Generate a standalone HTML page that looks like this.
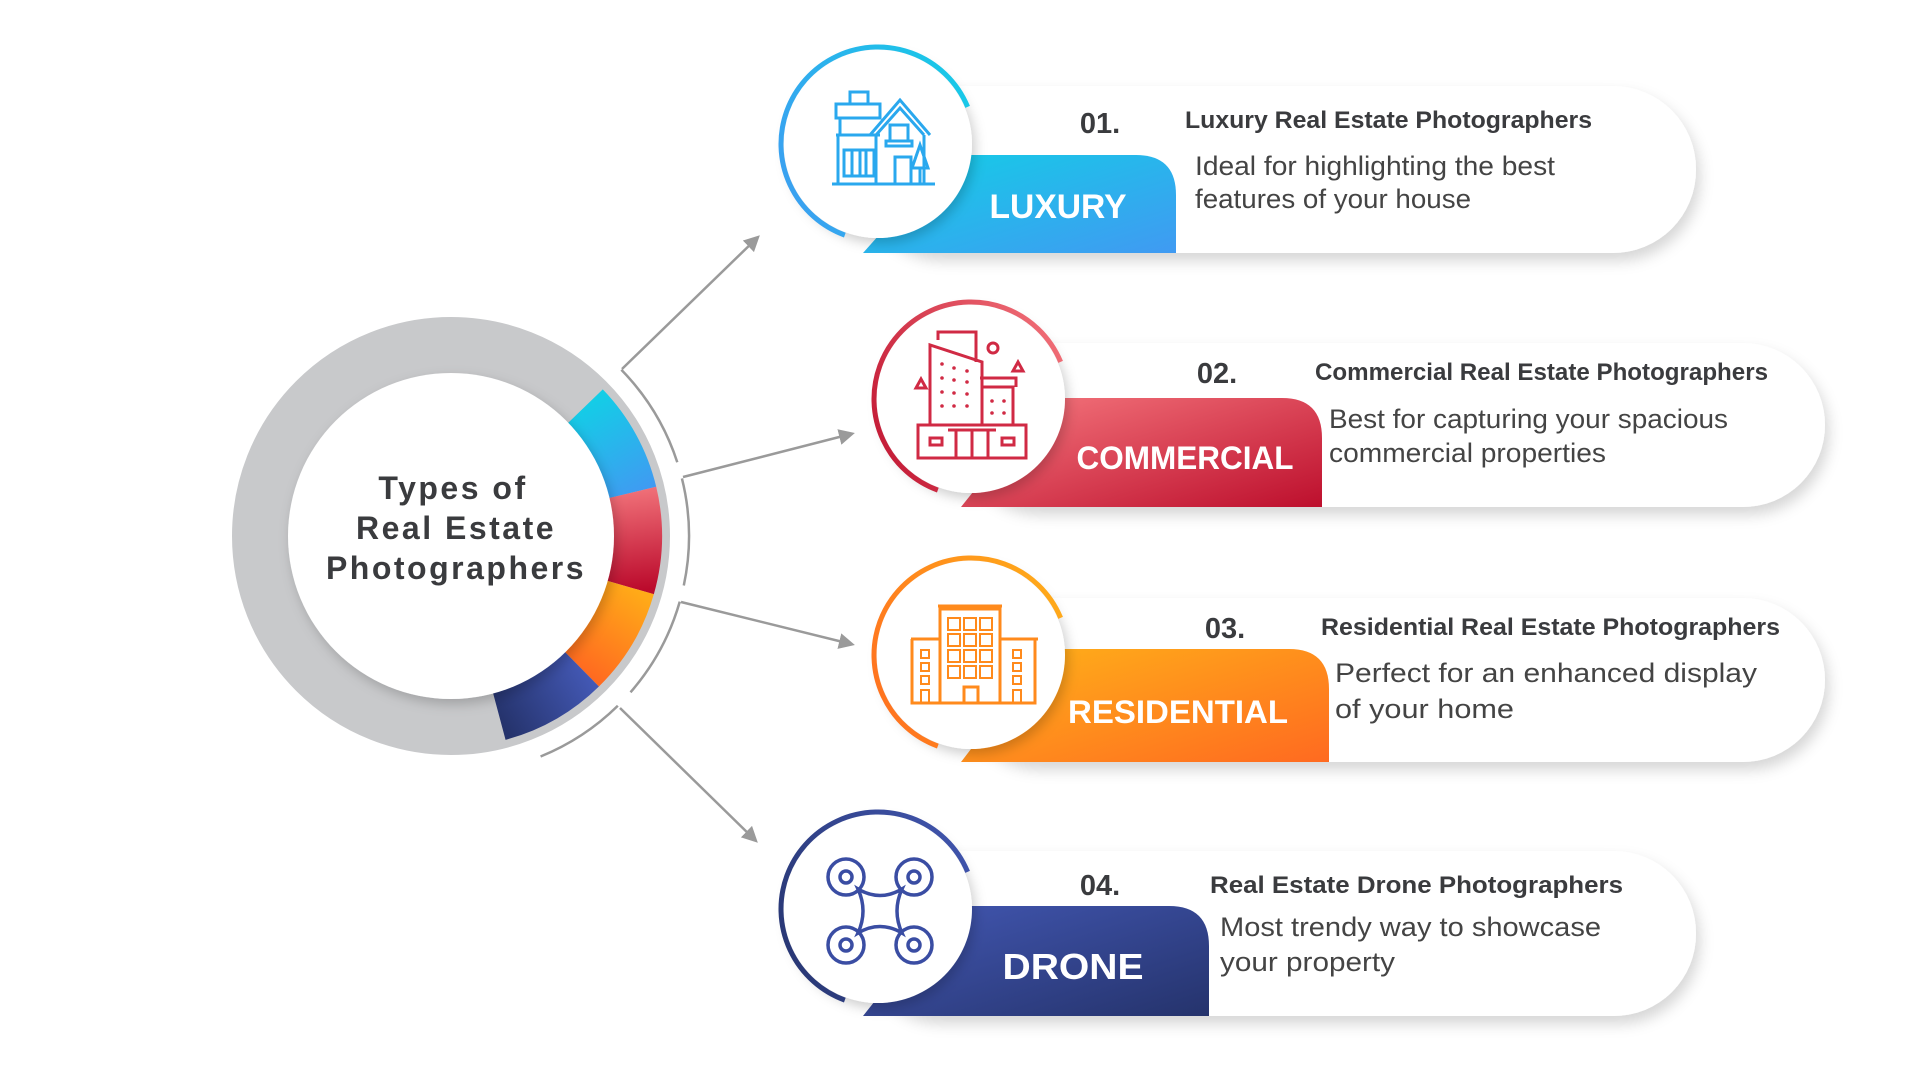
<!DOCTYPE html>
<html><head><meta charset="utf-8"><style>
html,body{margin:0;padding:0;background:#fff;}
svg{display:block;font-family:"Liberation Sans",sans-serif;}
</style></head><body>
<svg width="1920" height="1080" viewBox="0 0 1920 1080" xmlns="http://www.w3.org/2000/svg">
<defs>
<filter id="sh" x="-20%" y="-30%" width="140%" height="170%"><feDropShadow dx="4" dy="8" stdDeviation="7" flood-color="#000" flood-opacity="0.16"/></filter>
<filter id="sh2" x="-20%" y="-20%" width="140%" height="140%"><feDropShadow dx="3" dy="5" stdDeviation="6" flood-color="#000" flood-opacity="0.2"/></filter>
<marker id="ah" markerWidth="16" markerHeight="16" refX="12" refY="8" orient="auto" markerUnits="userSpaceOnUse" viewBox="0 0 16 16"><path d="M0,0 L16,8 L0,16 Z" fill="#9a9a9a"/></marker>
<linearGradient id="gB" x1="0" y1="0" x2="1" y2="1"><stop offset="0" stop-color="#12cfe6"/><stop offset="1" stop-color="#409af2"/></linearGradient>
<linearGradient id="gR" x1="0" y1="0" x2="1" y2="1"><stop offset="0" stop-color="#f77a80"/><stop offset="1" stop-color="#bd0f2d"/></linearGradient>
<linearGradient id="gO" x1="0" y1="0" x2="1" y2="1"><stop offset="0" stop-color="#ffb319"/><stop offset="1" stop-color="#ff6a20"/></linearGradient>
<linearGradient id="gN" x1="0" y1="0" x2="1" y2="1"><stop offset="0" stop-color="#4358b4"/><stop offset="1" stop-color="#25336c"/></linearGradient>
<linearGradient id="sB" gradientUnits="userSpaceOnUse" x1="585" y1="400" x2="640" y2="495"><stop offset="0" stop-color="#12cfe6"/><stop offset="1" stop-color="#409af2"/></linearGradient>
<linearGradient id="sR" gradientUnits="userSpaceOnUse" x1="630" y1="490" x2="640" y2="590"><stop offset="0" stop-color="#f07078"/><stop offset="1" stop-color="#bb0a2c"/></linearGradient>
<linearGradient id="sO" gradientUnits="userSpaceOnUse" x1="635" y1="590" x2="580" y2="670"><stop offset="0" stop-color="#ffaa18"/><stop offset="1" stop-color="#ff6a20"/></linearGradient>
<linearGradient id="sN" gradientUnits="userSpaceOnUse" x1="585" y1="670" x2="500" y2="720"><stop offset="0" stop-color="#4358b4"/><stop offset="1" stop-color="#25336c"/></linearGradient>
</defs>

<circle cx="451" cy="536" r="190" fill="none" stroke="#c8c9cb" stroke-width="58"/>
<g fill="none" stroke-width="50">
<path d="M584.8 406.8 A186 186 0 0 1 631.9 492.6" stroke="url(#sB)"/>
<path d="M631.9 492.6 A186 186 0 0 1 629.8 587.3" stroke="url(#sR)"/>
<path d="M629.8 587.3 A186 186 0 0 1 581.4 668.7" stroke="url(#sO)"/>
<path d="M581.4 668.7 A186 186 0 0 1 499.1 715.7" stroke="url(#sN)"/>
</g>
<circle cx="451" cy="536" r="163" fill="#fff" filter="url(#sh2)"/>
<g fill="#3a3b3e" font-weight="bold" font-size="32" text-anchor="middle" letter-spacing="2.5">
<text x="453" y="499">Types of</text>
<text x="456" y="539">Real Estate</text>
<text x="456" y="579">Photographers</text>
</g>

<g transform="translate(451 536)" fill="none" stroke="#9a9a9a" stroke-width="2.5">
<circle r="238" stroke-dasharray="109 2000" transform="rotate(-44.3)"/>
<circle r="238" stroke-dasharray="108 2000" transform="rotate(-14)"/>
<circle r="238" stroke-dasharray="104 2000" transform="rotate(16)"/>
<circle r="238" stroke-dasharray="93 2000" transform="rotate(45.5)"/>
</g>
<g stroke="#9a9a9a" stroke-width="2.5" fill="none" marker-end="url(#ah)">
<line x1="622" y1="369" x2="757" y2="238"/>
<line x1="683" y1="477" x2="851" y2="434"/>
<line x1="681" y1="602" x2="851" y2="644"/>
<line x1="620" y1="708" x2="755" y2="840"/>
</g>

<!-- CARD 1 -->
<rect x="857" y="86" width="839" height="167" rx="83" fill="#fff" filter="url(#sh)"/>
<path d="M863 253 L950 155 L1136 155 Q1176 155 1176 195 L1176 253 Z" fill="url(#gB)"/>
<circle cx="878" cy="144" r="94" fill="#fff" filter="url(#sh2)"/>
<circle cx="878" cy="144" r="97" fill="none" stroke="url(#gB)" stroke-width="5" stroke-dasharray="385 2000" transform="rotate(110 878 144)"/>
<g fill="none" stroke="#2aa8ee" stroke-width="3">
<rect x="850" y="92" width="18" height="12"/><path d="M836 104 H880 V118 H836 Z M840 118 V135 M836 135 H880 M838 135 V184 M832 184 H935"/>
<path d="M870 135 L900 100 L930 135 M876 135 L900 108 L924 135 M876 135 V184 M924 135 V184"/>
<rect x="890" y="125" width="18" height="16"/><rect x="886" y="141" width="26" height="5"/>
<rect x="844" y="150" width="30" height="26"/><path d="M852 150 V176 M860 150 V176 M866 150 V176"/>
<rect x="895" y="157" width="16" height="27"/><path d="M920 145 L912 168 H928 Z M920 168 V184"/>
</g>
<text x="1058" y="218" fill="#fff" font-weight="bold" font-size="34" text-anchor="middle" textLength="137" lengthAdjust="spacingAndGlyphs">LUXURY</text>
<text x="1100" y="133" fill="#3a3b3e" font-weight="bold" font-size="29" text-anchor="middle">01.</text>
<text x="1185" y="128" fill="#3a3b3e" font-weight="bold" font-size="24" textLength="407" lengthAdjust="spacingAndGlyphs">Luxury Real Estate Photographers</text>
<g fill="#444" font-size="27">
<text x="1195" y="175" textLength="360" lengthAdjust="spacingAndGlyphs">Ideal for highlighting the best</text>
<text x="1195" y="208" textLength="276" lengthAdjust="spacingAndGlyphs">features of your house</text>
</g>

<!-- CARD 2 -->
<rect x="955" y="343" width="870" height="164" rx="82" fill="#fff" filter="url(#sh)"/>
<path d="M961 507 L1048 398 L1282 398 Q1322 398 1322 438 L1322 507 Z" fill="url(#gR)"/>
<circle cx="971" cy="399" r="94" fill="#fff" filter="url(#sh2)"/>
<circle cx="971" cy="399" r="97" fill="none" stroke="url(#gR)" stroke-width="5" stroke-dasharray="385 2000" transform="rotate(110 971 399)"/>
<g fill="none" stroke="#d02a44" stroke-width="3">
<path d="M930 425 V345 L982 362 V425 M938 340 V332 H976 V362"/>
<path d="M982 387 H1013 V425 M980 378 H1016 V387"/>
<rect x="918" y="425" width="108" height="33"/><path d="M948 430 H996 M956 430 V458 M972 430 V458 M988 430 V458"/>
<rect x="930" y="438" width="12" height="7"/><rect x="1002" y="438" width="12" height="7"/>
<circle cx="993" cy="348" r="5"/><path d="M916 388 L921 379 L926 388 Z M1013 371 L1018 362 L1023 371 Z"/>
</g>
<g fill="#d02a44"><circle cx="942" cy="364" r="1.8"/><circle cx="954" cy="368" r="1.8"/><circle cx="967" cy="371" r="1.8"/>
<circle cx="942" cy="378" r="1.8"/><circle cx="954" cy="380" r="1.8"/><circle cx="967" cy="382" r="1.8"/>
<circle cx="942" cy="392" r="1.8"/><circle cx="954" cy="393" r="1.8"/><circle cx="967" cy="394" r="1.8"/>
<circle cx="942" cy="406" r="1.8"/><circle cx="954" cy="406" r="1.8"/><circle cx="967" cy="406" r="1.8"/>
<circle cx="992" cy="401" r="1.8"/><circle cx="1004" cy="401" r="1.8"/><circle cx="992" cy="413" r="1.8"/><circle cx="1004" cy="413" r="1.8"/></g>
<text x="1185" y="469" fill="#fff" font-weight="bold" font-size="32" text-anchor="middle" textLength="217" lengthAdjust="spacingAndGlyphs">COMMERCIAL</text>
<text x="1217" y="383" fill="#3a3b3e" font-weight="bold" font-size="29" text-anchor="middle">02.</text>
<text x="1315" y="380" fill="#3a3b3e" font-weight="bold" font-size="24" textLength="453" lengthAdjust="spacingAndGlyphs">Commercial Real Estate Photographers</text>
<g fill="#444" font-size="27">
<text x="1329" y="428" textLength="399" lengthAdjust="spacingAndGlyphs">Best for capturing your spacious</text>
<text x="1329" y="462" textLength="277" lengthAdjust="spacingAndGlyphs">commercial properties</text>
</g>

<!-- CARD 3 -->
<rect x="955" y="598" width="870" height="164" rx="82" fill="#fff" filter="url(#sh)"/>
<path d="M961 762 L1048 649 L1289 649 Q1329 649 1329 689 L1329 762 Z" fill="url(#gO)"/>
<circle cx="971" cy="655" r="94" fill="#fff" filter="url(#sh2)"/>
<circle cx="971" cy="655" r="97" fill="none" stroke="url(#gO)" stroke-width="5" stroke-dasharray="385 2000" transform="rotate(110 971 655)"/>
<g fill="none" stroke="#ff8a1c" stroke-width="3">
<path d="M940 703 V609 H1000 V703 M938 606 H1002 M911 639 H940 M1000 639 H1038"/>
<path d="M912 639 V703 H1035 V639"/>
<rect x="964" y="687" width="14" height="16"/>
<g stroke-width="2">
<rect x="948" y="618" width="12" height="12"/><rect x="964" y="618" width="12" height="12"/><rect x="980" y="618" width="12" height="12"/>
<rect x="948" y="634" width="12" height="12"/><rect x="964" y="634" width="12" height="12"/><rect x="980" y="634" width="12" height="12"/>
<rect x="948" y="650" width="12" height="12"/><rect x="964" y="650" width="12" height="12"/><rect x="980" y="650" width="12" height="12"/>
<rect x="948" y="666" width="12" height="12"/><rect x="964" y="666" width="12" height="12"/><rect x="980" y="666" width="12" height="12"/>
<rect x="921" y="650" width="8" height="8"/><rect x="921" y="663" width="8" height="8"/><rect x="921" y="676" width="8" height="8"/><rect x="921" y="690" width="8" height="13"/>
<rect x="1013" y="650" width="8" height="8"/><rect x="1013" y="663" width="8" height="8"/><rect x="1013" y="676" width="8" height="8"/><rect x="1013" y="690" width="8" height="13"/>
</g></g>
<text x="1178" y="723" fill="#fff" font-weight="bold" font-size="32" text-anchor="middle" textLength="220" lengthAdjust="spacingAndGlyphs">RESIDENTIAL</text>
<text x="1225" y="638" fill="#3a3b3e" font-weight="bold" font-size="29" text-anchor="middle">03.</text>
<text x="1321" y="635" fill="#3a3b3e" font-weight="bold" font-size="24" textLength="459" lengthAdjust="spacingAndGlyphs">Residential Real Estate Photographers</text>
<g fill="#444" font-size="27">
<text x="1335" y="682" textLength="422" lengthAdjust="spacingAndGlyphs">Perfect for an enhanced display</text>
<text x="1335" y="718" textLength="179" lengthAdjust="spacingAndGlyphs">of your home</text>
</g>

<!-- CARD 4 -->
<rect x="857" y="851" width="839" height="165" rx="82" fill="#fff" filter="url(#sh)"/>
<path d="M863 1016 L950 906 L1169 906 Q1209 906 1209 946 L1209 1016 Z" fill="url(#gN)"/>
<circle cx="878" cy="909" r="94" fill="#fff" filter="url(#sh2)"/>
<circle cx="878" cy="909" r="97" fill="none" stroke="url(#gN)" stroke-width="5" stroke-dasharray="385 2000" transform="rotate(110 878 909)"/>
<g fill="none" stroke="#3a4da3" stroke-width="3.5">
<circle cx="846" cy="877" r="18"/><circle cx="846" cy="877" r="6"/>
<circle cx="914" cy="877" r="18"/><circle cx="914" cy="877" r="6"/>
<circle cx="846" cy="945" r="18"/><circle cx="846" cy="945" r="6"/>
<circle cx="914" cy="945" r="18"/><circle cx="914" cy="945" r="6"/>
<path d="M858 889 Q880 902 902 889 Q892 911 902 933 Q880 920 858 933 Q868 911 858 889 Z"/>
</g>
<text x="1073" y="979" fill="#fff" font-weight="bold" font-size="36" text-anchor="middle" textLength="141" lengthAdjust="spacingAndGlyphs">DRONE</text>
<text x="1100" y="895" fill="#3a3b3e" font-weight="bold" font-size="29" text-anchor="middle">04.</text>
<text x="1210" y="893" fill="#3a3b3e" font-weight="bold" font-size="24" textLength="413" lengthAdjust="spacingAndGlyphs">Real Estate Drone Photographers</text>
<g fill="#444" font-size="27">
<text x="1220" y="936" textLength="381" lengthAdjust="spacingAndGlyphs">Most trendy way to showcase</text>
<text x="1220" y="971" textLength="175" lengthAdjust="spacingAndGlyphs">your property</text>
</g>
</svg>
</body></html>
